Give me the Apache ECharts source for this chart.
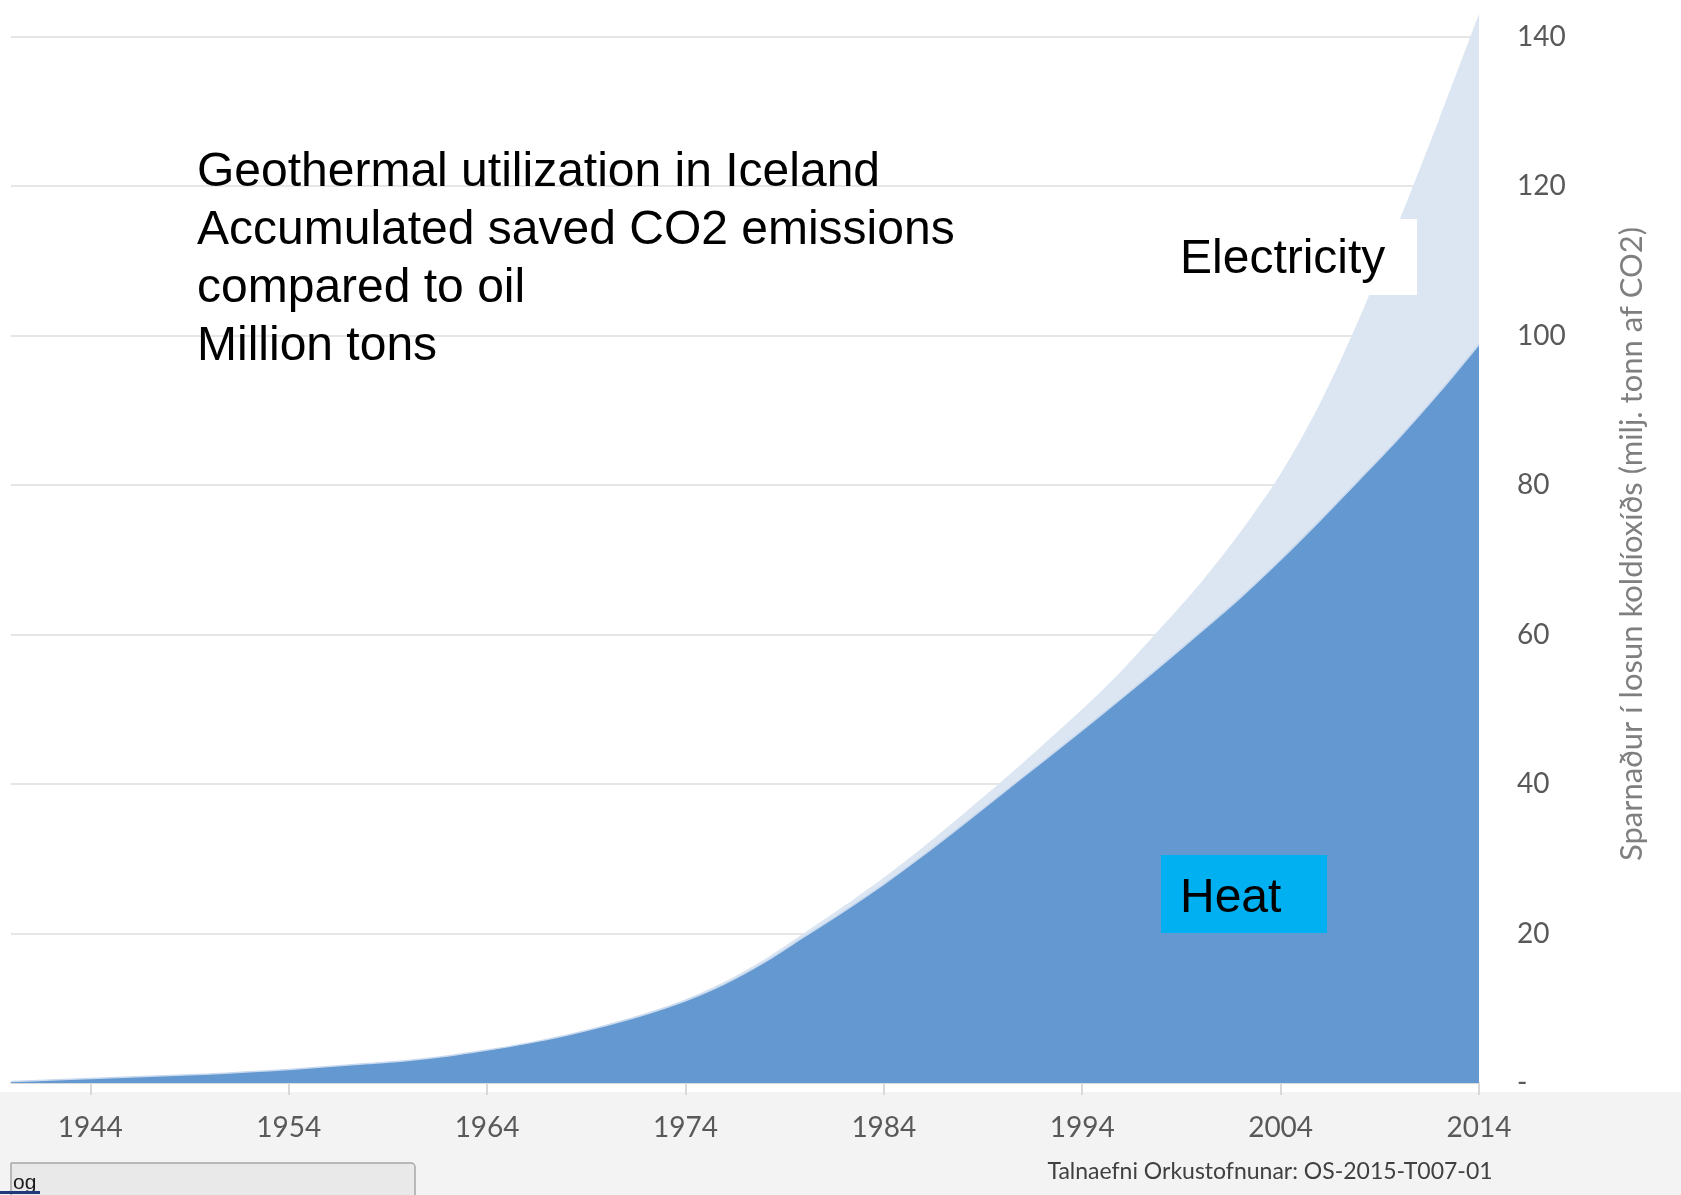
<!DOCTYPE html>
<html>
<head>
<meta charset="utf-8">
<title>Geothermal utilization in Iceland</title>
<script src="https://cdn.jsdelivr.net/npm/echarts@6/dist/echarts.min.js"></script>
<style>
  html, body { margin: 0; padding: 0; background: #ffffff; }
  #chart { width: 1681px; height: 1195px; }
</style>
</head>
<body>
<div id="chart"></div>
<script>
// Accumulated saved CO2 emissions (million tons), every second year
const years = [
  1940, 1942, 1944, 1946, 1948, 1950, 1952, 1954, 1956, 1958,
  1960, 1962, 1964, 1966, 1968, 1970, 1972, 1974, 1976, 1978,
  1980, 1982, 1984, 1986, 1988, 1990, 1992, 1994, 1996, 1998,
  2000, 2002, 2004, 2006, 2008, 2010, 2012, 2014
];
const heat = [
  0.2, 0.4, 0.6, 0.8, 1.0, 1.2, 1.5, 1.8, 2.2, 2.6,
  3.0, 3.6, 4.4, 5.3, 6.4, 7.7, 9.2, 11.0, 13.3, 16.2,
  19.6, 23.0, 26.6, 30.5, 34.6, 38.8, 43.0, 47.2, 51.5, 55.9,
  60.4, 65.0, 70.0, 75.3, 80.8, 86.4, 92.4, 98.8
];
const electricity = [
  0, 0, 0, 0, 0, 0, 0, 0, 0, 0,
  0, 0, 0, 0, 0, 0.1, 0.15, 0.2, 0.3, 0.4,
  0.5, 0.7, 0.9, 1.1, 1.4, 1.7, 2.2, 2.8, 3.7, 5.1,
  6.6, 8.8, 11.5, 15.7, 21.7, 29.1, 36.6, 44.2
];

// Axis tick labels
const yearTicks = [1944, 1954, 1964, 1974, 1984, 1994, 2004, 2014];
const valueMax = 140;
const valueStep = 20;

const titleLines = [
  'Geothermal utilization in Iceland',
  'Accumulated saved CO2 emissions',
  'compared to oil',
  'Million tons'
];
const yAxisTitle = 'Sparnaður í losun koldíoxíðs (milj. tonn af CO2)';
const sourceNote = 'Talnaefni Orkustofnunar: OS-2015-T007-01';

// Electricity sits on top of heat: its area spans from the heat curve up to the sum.
const heatPoints = years.map((y, i) => [y, heat[i]]);
const topPoints = years.map((y, i) => [y, heat[i] + electricity[i]]);

const chart = echarts.init(document.getElementById('chart'), null, { renderer: 'canvas' });

const labelFont = 'Lato, "Open Sans", sans-serif';
const textFont = '"Liberation Sans", Arial, sans-serif';

chart.setOption({
  animation: false,
  backgroundColor: '#ffffff',
  grid: { left: 11, right: 202, top: 36.5, bottom: 112 },
  xAxis: {
    type: 'value',
    min: 1940,
    max: 2014,
    axisLine: { show: true, lineStyle: { color: '#d9d9d9', width: 2 } },
    axisTick: { show: true, customValues: yearTicks, length: 12, lineStyle: { color: '#d9d9d9', width: 2 } },
    axisLabel: {
      customValues: yearTicks,
      margin: 31,
      color: '#595959',
      fontSize: 28,
      fontFamily: labelFont,
      formatter: (v) => String(v)
    },
    splitLine: { show: false }
  },
  yAxis: {
    type: 'value',
    position: 'right',
    min: 0,
    max: valueMax,
    interval: valueStep,
    axisLine: { show: false },
    axisTick: { show: false },
    axisLabel: {
      align: 'left',
      margin: 38,
      color: '#595959',
      fontSize: 28,
      fontFamily: labelFont,
      formatter: (v) => (v === 0 ? '-' : String(v))
    },
    splitLine: { show: true, lineStyle: { color: '#e6e6e6', width: 2 } }
  },
  series: [
    {
      name: 'Electricity',
      type: 'line',
      data: topPoints,
      smooth: 0.3,
      showSymbol: false,
      clip: false,
      lineStyle: { width: 0 },
      areaStyle: { color: '#dce6f2', opacity: 1 },
      z: 2
    },
    {
      name: 'Heat',
      type: 'line',
      data: heatPoints,
      smooth: 0.3,
      showSymbol: false,
      clip: false,
      lineStyle: { width: 1.5, color: '#c9daef' },
      areaStyle: { color: '#6498d0', opacity: 1 },
      z: 3
    }
  ],
  graphic: [
    // light strip under the axis labels
    { type: 'rect', z: -10, silent: true, shape: { x: 0, y: 1092, width: 1681, height: 103 }, style: { fill: '#f3f3f3' } },
    // title block
    {
      type: 'text', z: 10, x: 197, y: 144,
      style: {
        text: titleLines.join('\n'),
        font: '48px ' + textFont,
        lineHeight: 58,
        fill: '#000000',
        verticalAlign: 'top',
        align: 'left'
      }
    },
    // Electricity label box
    { type: 'rect', z: 10, shape: { x: 1163, y: 219, width: 254, height: 76 }, style: { fill: '#ffffff' } },
    {
      type: 'text', z: 11, x: 1180, y: 260,
      style: { text: 'Electricity', font: '48px ' + textFont, fill: '#000000', verticalAlign: 'middle', align: 'left' }
    },
    // Heat label box
    { type: 'rect', z: 10, shape: { x: 1161, y: 855, width: 166, height: 78 }, style: { fill: '#00b0f0' } },
    {
      type: 'text', z: 11, x: 1180, y: 899,
      style: { text: 'Heat', font: '48px ' + textFont, fill: '#000000', verticalAlign: 'middle', align: 'left' }
    },
    // rotated value-axis title
    {
      type: 'text', z: 10, x: 1632, y: 544, rotation: Math.PI / 2,
      style: { text: yAxisTitle, font: '31px ' + labelFont, fill: '#7f7f7f', align: 'center', verticalAlign: 'middle' }
    },
    // source note
    {
      type: 'text', z: 10, x: 1270, y: 1172,
      style: { text: sourceNote, font: '23px ' + labelFont, fill: '#404040', align: 'center', verticalAlign: 'middle' }
    },
    // window tab at the bottom-left
    {
      type: 'rect', z: 10,
      shape: { x: 11, y: 1163, width: 404, height: 40, r: [0, 4, 0, 0] },
      style: { fill: '#e9e9e9', stroke: '#a6a6a6', lineWidth: 1.5 }
    },
    {
      type: 'text', z: 11, x: 13, y: 1183,
      style: { text: 'og', font: '21px ' + textFont, fill: '#1a1a1a', verticalAlign: 'middle', align: 'left' }
    },
    { type: 'rect', z: 11, shape: { x: 0, y: 1191, width: 40, height: 3 }, style: { fill: '#1f3a7a' } }
  ]
});
</script>
</body>
</html>
